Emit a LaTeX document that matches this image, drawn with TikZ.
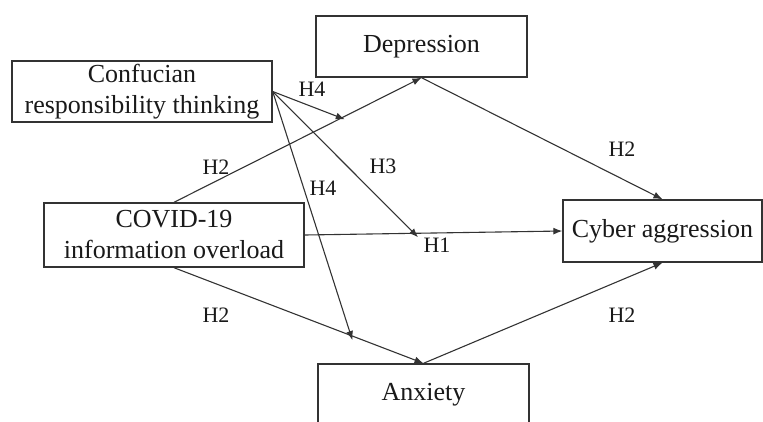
\documentclass[tikz,border=0pt]{standalone}
\usepackage{fontspec}
\setmainfont{Liberation Serif}
\usetikzlibrary{arrows.meta}
\begin{document}
\begin{tikzpicture}[x=1pt,y=-1pt,
  box/.style={draw=black!80,line width=1.4pt,inner sep=0pt,align=center,
    font=\fontsize{26}{31}\selectfont,text=black!90},
  hlabel/.style={font=\fontsize{22}{26}\selectfont,inner sep=0pt,text=black!90},
  conn/.style={draw=black!80,line width=1.1pt},
  arr/.style={conn,-{Latex[length=9pt,width=7pt]}}]
\useasboundingbox (0,0) rectangle (763,421);
\clip (0,0) rectangle (763,421);
\node[box,minimum width=260pt,minimum height=61pt] (conf) at (142,91.5) {Confucian\\responsibility thinking};
\node[box,minimum width=211pt,minimum height=61pt] (dep) at (421.5,46.5) {Depression};
\node[box,minimum width=260pt,minimum height=64pt] (covid) at (174,235) {COVID-19\\information overload};
\node[box,minimum width=199pt,minimum height=62pt] (cyber) at (662.5,231) {Cyber aggression};
\node[box,minimum width=211pt,minimum height=62pt] (anx) at (423.5,395) {Anxiety};
% main paths
\draw[arr] (covid.north) -- (dep.south) coordinate[pos=0.69] (m1);
\draw[arr] (covid.east) -- (cyber.west) coordinate[pos=0.44] (m2);
\draw[arr] (covid.south) -- (anx.north) coordinate[pos=0.715] (m3);
\draw[arr] (dep.south) -- (cyber.north);
\draw[arr] (anx.north) -- (cyber.south);
% moderation
\draw[arr] (conf.east) -- ([yshift=-3pt]m1);
\draw[arr] (conf.east) -- ([yshift=-4pt]m2);
\draw[arr] (conf.east) -- ([yshift=-4pt]m3);
% labels
\node[hlabel] (l1) at (312,89) {H4};
\node[hlabel] (l2) at (216,167) {H2};
\node[hlabel] (l3) at (383,166) {H3};
\node[hlabel] (l4) at (323,188) {H4};
\node[hlabel] (l5) at (622,149) {H2};
\node[hlabel] (l6) at (437,245) {H1};
\node[hlabel] (l7) at (216,315) {H2};
\node[hlabel] (l8) at (622,315) {H2};
\end{tikzpicture}
\end{document}
